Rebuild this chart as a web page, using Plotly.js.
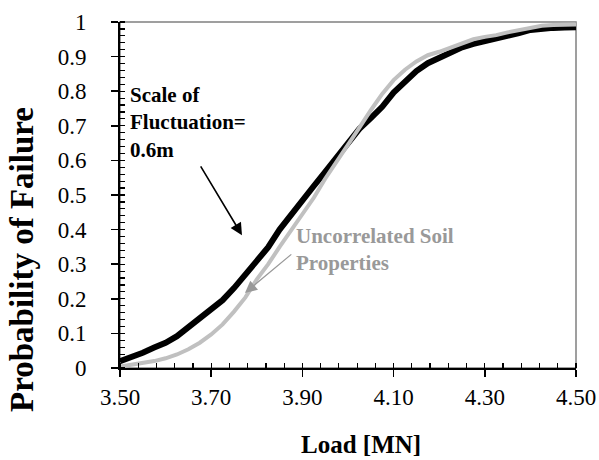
<!DOCTYPE html>
<html>
<head>
<meta charset="utf-8">
<script src="https://cdn.plot.ly/plotly-3.0.1.min.js"></script>
<style>html,body{margin:0;padding:0;background:#fff;}#chart{width:599px;height:460px;}</style>
</head>
<body>
<div id="chart"></div>
<script>
// Load [MN]
var load = [3.500,3.525,3.550,3.575,3.600,3.625,3.650,3.675,3.700,3.725,3.750,3.775,3.800,3.825,3.850,3.875,3.900,3.925,3.950,3.975,4.000,4.025,4.050,4.075,4.100,4.125,4.150,4.175,4.200,4.225,4.250,4.275,4.300,4.325,4.350,4.375,4.400,4.425,4.450,4.475,4.500];
// Scale of fluctuation = 0.6 m
var pfCorrelated = [0.020,0.031,0.044,0.059,0.073,0.092,0.117,0.142,0.170,0.196,0.231,0.269,0.312,0.349,0.400,0.444,0.484,0.526,0.567,0.610,0.651,0.691,0.722,0.755,0.796,0.830,0.858,0.881,0.897,0.912,0.927,0.937,0.944,0.951,0.959,0.968,0.977,0.981,0.983,0.984,0.985];
// Uncorrelated soil properties
var pfUncorrelated = [0.004,0.009,0.014,0.020,0.028,0.039,0.054,0.073,0.097,0.126,0.163,0.204,0.256,0.300,0.350,0.398,0.444,0.492,0.547,0.595,0.645,0.695,0.745,0.792,0.832,0.862,0.886,0.904,0.914,0.926,0.940,0.950,0.957,0.962,0.970,0.977,0.984,0.989,0.991,0.992,0.993];

var xTickVals = [3.5,3.7,3.9,4.1,4.3,4.5];
var xTickText = ["3.50","3.70","3.90","4.10","4.30","4.50"];
var yTickVals = [0,0.1,0.2,0.3,0.4,0.5,0.6,0.7,0.8,0.9,1];
var yTickText = ["0","0.1","0.2","0.3","0.4","0.5","0.6","0.7","0.8","0.9","1"];

var FONT = "Liberation Serif";

var traces = [
  {x: load, y: pfCorrelated, mode: "lines", name: "Scale of Fluctuation=0.6m",
   line: {color: "#000000", width: 6}, hoverinfo: "skip"},
  {x: load, y: pfUncorrelated, mode: "lines", name: "Uncorrelated Soil Properties",
   line: {color: "#c0c0c0", width: 4}, hoverinfo: "skip"}
];

var layout = {
  width: 599, height: 460,
  margin: {l: 120, r: 23, t: 22, b: 92},
  paper_bgcolor: "#ffffff", plot_bgcolor: "#ffffff",
  showlegend: false,
  font: {family: FONT, color: "#000000", size: 23},
  xaxis: {
    range: [3.5, 4.5], showgrid: false, zeroline: false,
    showline: true, linecolor: "#000000", linewidth: 2,
    tickmode: "array", tickvals: xTickVals, ticktext: xTickText,
    ticks: "outside", ticklen: 7, tickwidth: 1.5, tickcolor: "#000000",
    tickfont: {family: FONT, size: 23, color: "#000000"},
    minor: {dtick: 0.04, tick0: 3.5, ticks: "inside", ticklen: 5, tickwidth: 1.2, tickcolor: "#000000", showgrid: false},
    fixedrange: true
  },
  yaxis: {
    range: [0, 1], showgrid: false, zeroline: false,
    showline: true, linecolor: "#000000", linewidth: 2,
    tickmode: "array", tickvals: yTickVals, ticktext: yTickText,
    ticks: "outside", ticklen: 7, tickwidth: 1.5, tickcolor: "#000000",
    ticklabelstandoff: 20,
    tickfont: {family: FONT, size: 23, color: "#000000"},
    minor: {dtick: 0.02, tick0: 0, ticks: "inside", ticklen: 5, tickwidth: 1.2, tickcolor: "#000000", showgrid: false},
    fixedrange: true
  },
  xaxis2: {overlaying: "x", matches: "x", range: [3.5, 4.5], showgrid: false, zeroline: false, showline: false,
    tickmode: "array", tickvals: xTickVals, ticks: "inside", ticklen: 7, tickwidth: 1.5, tickcolor: "#000000",
    showticklabels: false, side: "bottom", anchor: "y2"},
  yaxis2: {overlaying: "y", range: [0, 1], showgrid: false, zeroline: false, showline: false,
    tickmode: "array", tickvals: yTickVals, ticks: "inside", ticklen: 7, tickwidth: 1.5, tickcolor: "#000000",
    showticklabels: false, side: "left", anchor: "x2"},
  shapes: [
    {type: "rect", xref: "paper", yref: "paper", x0: 0, x1: 1, y0: 0, y1: 1,
     line: {color: "#808080", width: 1.5}, layer: "below"}
  ],
  annotations: [
    {xref: "x", yref: "y", x: 3.7675, y: 0.384, axref: "x", ayref: "y", ax: 3.675, ay: 0.587,
     showarrow: true, arrowhead: 2, arrowsize: 1.5, arrowwidth: 1.6, arrowcolor: "#000000", text: ""},
    {xref: "x", yref: "y", x: 3.774, y: 0.217, axref: "x", ayref: "y", ax: 3.879, ay: 0.332,
     showarrow: true, arrowhead: 2, arrowsize: 2, arrowwidth: 1.2, arrowcolor: "#999999", text: ""},
    {xref: "x", yref: "y", x: 3.518, y: 0.71, xanchor: "left", yanchor: "middle", align: "left", showarrow: false,
     text: "<b>Scale of<br>Fluctuation=<br>0.6m</b>", font: {family: FONT, size: 21, color: "#000000"}},
    {xref: "x", yref: "y", x: 3.882, y: 0.342, xanchor: "left", yanchor: "middle", align: "left", showarrow: false,
     text: "<b>Uncorrelated Soil<br>Properties</b>", font: {family: FONT, size: 21, color: "#999999"}},
    {xref: "paper", yref: "paper", x: (22-120)/456, y: (368-260)/346, xanchor: "center", yanchor: "middle",
     textangle: -90, showarrow: false, text: "<b>Probability of Failure</b>", font: {family: FONT, size: 33, color: "#000000"}},
    {xref: "paper", yref: "paper", x: (361-120)/456, y: -(444-368)/346, xanchor: "center", yanchor: "middle",
     showarrow: false, text: "<b>Load [MN]</b>", font: {family: FONT, size: 25, color: "#000000"}}
  ]
};

Plotly.newPlot("chart", traces, layout, {staticPlot: true, displayModeBar: false});
</script>
</body>
</html>
